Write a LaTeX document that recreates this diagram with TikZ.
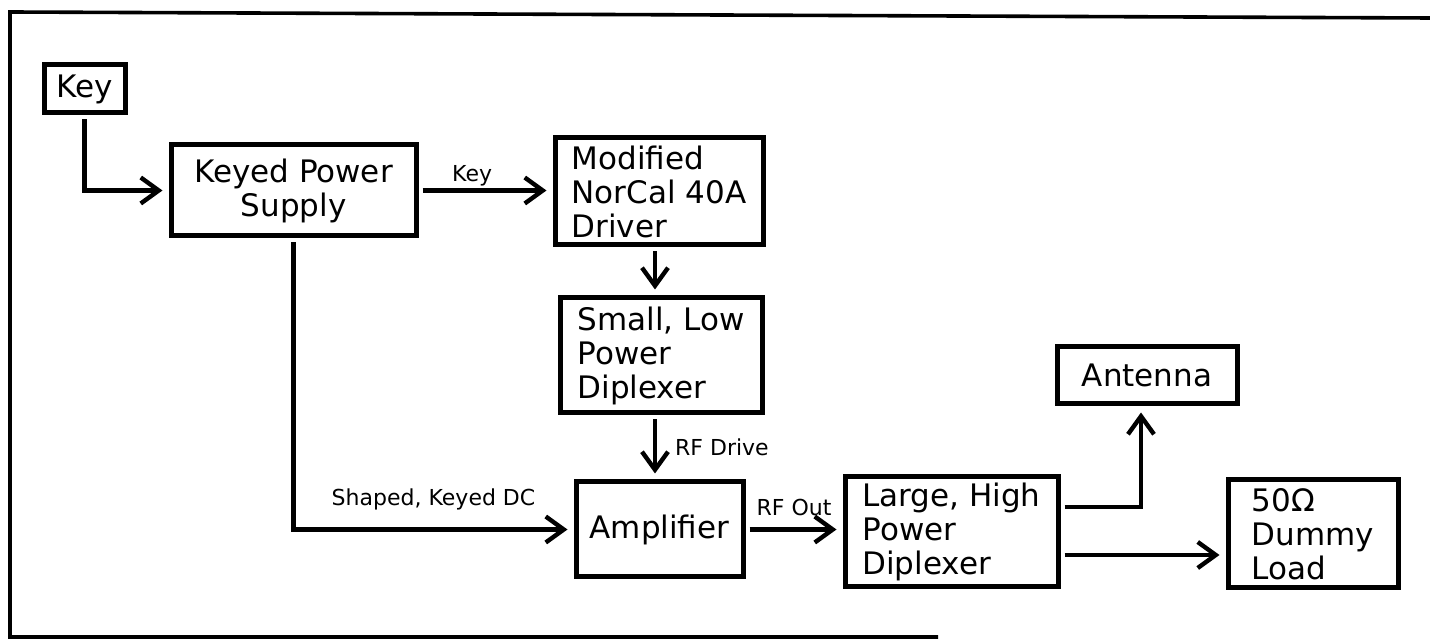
\documentclass[tikz,border=0pt]{standalone}
\usepackage{fontspec}
\setmainfont{DejaVu Sans}
\usetikzlibrary{arrows.meta}
\tikzset{
  block/.style={draw, line width=2.5pt, inner sep=0pt, align=center, font=\fontsize{15.5}{17}\selectfont},
  tag/.style={inner sep=1pt, font=\fontsize{11}{13}\selectfont},
  feed/.style={line width=2.2pt, -{Straight Barb[length=9pt,width=13pt]}, shorten <=2pt, shorten >=3pt},
}
\begin{document}
\begin{tikzpicture}[x=0.5pt, y=-0.5pt]
    \useasboundingbox (0,0) rectangle (1430,640);
    % Frame
    \draw[line width=1.8pt] (938,637) -- (10,637) -- (10,12) -- (1430,18);

    % Blocks
    \node[block, minimum width=40.5pt, minimum height=24pt] (key) at (84.5,89) {Key};
    \node[block, minimum width=122.5pt, minimum height=45.5pt] (kps) at (293.5,190.5) {Keyed Power\\Supply};
    \node[block, align=left, minimum width=104pt, minimum height=53.5pt] (driver) at (659,191.5) {Modified\\NorCal 40A\\Driver};
    \node[block, align=left, minimum width=101pt, minimum height=57.5pt] (smalldip) at (661,355.5) {Small, Low\\Power\\Diplexer};
    \node[block, minimum width=83.5pt, minimum height=47.5pt] (amp) at (659.5,529.5) {Amplifier};
    \node[block, align=left, minimum width=106.5pt, minimum height=55pt] (largedip) at (951.5,532) {Large, High\\Power\\Diplexer};
    \node[block, minimum width=90pt, minimum height=28.5pt] (antenna) at (1147,375.5) {Antenna};
    \node[block, align=left, minimum width=85pt, minimum height=54pt] (dummy) at (1313,534) {50Ω\\Dummy\\Load};

    % Connections
    \draw[feed] (key.south) |- (kps.west);
    \draw[feed] (kps.east) -- (kps.east -| driver.west) node[pos=0.4, above, tag] {Key};
    \draw[feed] ([xshift=-2pt]driver.south) -- ([xshift=-2pt]driver.south |- smalldip.north);
    \draw[feed] ([xshift=-3pt]smalldip.south) -- ([xshift=-3pt]smalldip.south |- amp.north) node[midway, right=8pt, tag] {RF Drive};
    \draw[feed] (kps.south) |- (amp.west) node[pos=0.75, above=7.5pt, tag] {Shaped, Keyed DC};
    \draw[feed] (amp.east) -- (amp.east -| largedip.west) node[midway, above=4.5pt, tag] {RF Out};
    \draw[feed] ([yshift=12.5pt]largedip.east) -| ([xshift=-3pt]antenna.south);
    \draw[feed] ([yshift=-11.5pt]largedip.east) -- ([yshift=-11.5pt]largedip.east -| dummy.west);
\end{tikzpicture}
\end{document}
